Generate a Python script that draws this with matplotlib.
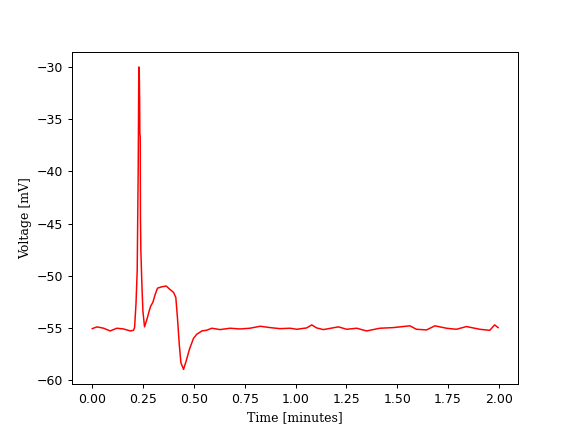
import numpy as np
import matplotlib
matplotlib.use("Agg")
import matplotlib.pyplot as plt

# trace (time in minutes, voltage in mV)
time_min = [
    0.000, 0.023, 0.056, 0.088, 0.121, 0.154, 0.187, 0.203, 0.208, 0.215,
    0.221, 0.226, 0.229, 0.231, 0.233, 0.234, 0.236, 0.237, 0.239, 0.244,
    0.249, 0.257, 0.269, 0.280, 0.288, 0.298, 0.310, 0.321, 0.342, 0.364,
    0.380, 0.400, 0.411, 0.419, 0.428, 0.436, 0.449, 0.462, 0.478, 0.498,
    0.514, 0.539, 0.563, 0.588, 0.629, 0.678, 0.727, 0.776, 0.826, 0.875,
    0.924, 0.973, 1.006, 1.055, 1.080, 1.104, 1.137, 1.211, 1.252, 1.301,
    1.350, 1.415, 1.481, 1.563, 1.595, 1.645, 1.686, 1.743, 1.792, 1.841,
    1.907, 1.956, 1.980, 1.997,
]
voltage_mv = [
    -55.07, -54.90, -55.03, -55.29, -55.03, -55.10, -55.29, -55.22, -54.97, -52.72,
    -49.52, -39.58, -30.00, -30.29, -33.17, -36.38, -36.70, -44.39, -47.60, -50.80,
    -53.37, -54.90, -54.17, -53.37, -52.88, -52.56, -51.76, -51.19, -51.06, -50.99,
    -51.28, -51.60, -52.08, -54.01, -56.57, -58.33, -58.97, -58.17, -57.05, -56.00,
    -55.61, -55.29, -55.22, -55.03, -55.16, -55.03, -55.10, -55.03, -54.84, -54.97,
    -55.07, -55.03, -55.13, -55.00, -54.71, -55.00, -55.16, -54.90, -55.13, -55.03,
    -55.29, -55.03, -54.97, -54.80, -55.13, -55.19, -54.80, -55.03, -55.13, -54.87,
    -55.13, -55.23, -54.71, -54.97,
]

fig, ax = plt.subplots(figsize=(6.4, 4.8), dpi=90)
ax.plot(time_min, voltage_mv, color="red", linewidth=1.2)
ax.set_xlabel("Time [minutes]", family="DejaVu Serif")
ax.set_ylabel("Voltage [mV]", family="DejaVu Serif")

plt.savefig("out.png", dpi=90)
